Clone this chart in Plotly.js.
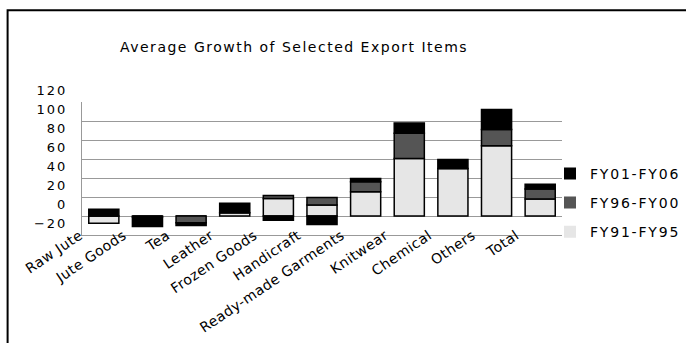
<!DOCTYPE html>
<html>
<head>
<meta charset="utf-8">
<script src="https://cdn.plot.ly/plotly-3.0.1.min.js"></script>
<style>
  html, body { margin: 0; padding: 0; background: #fff; }
  #chart { width: 686px; height: 343px; }
  .gtitle { letter-spacing: 1.5px; }
  .ytick text { letter-spacing: 2px; }
  .xtick text { letter-spacing: 0.5px; }
  .legendtext { letter-spacing: 1.8px; }
  .legend .legendpoints path { stroke: none !important; }
</style>
</head>
<body>
<div id="chart"></div>
<script>
const categories = ["Raw Jute", "Jute Goods", "Tea", "Leather", "Frozen Goods", "Handicraft",
  "Ready-made Garments", "Knitwear", "Chemical", "Others", "Total"];
const fy91_95 = [-7.5, 0, 0, 3.5, 18.5, 11.5, 25.5, 60.5, 50, 74, 18];
const fy96_00 = [0, -1, -7, 0, 3, 8, 10.5, 26.5, 0, 17, 10.5];
const fy01_06 = [7, -10, -3, 10, -4.5, -9, 3.5, 11, 9.5, 21, 5];
const seriesNames = ["FY91-FY95", "FY96-FY00", "FY01-FY06"];
const yTicks = [-20, 0, 20, 40, 60, 80, 100, 120];

const colors = ["#e6e6e6", "#555555", "#000000"];
const seriesData = [fy91_95, fy96_00, fy01_06];

const traces = seriesData.map((vals, i) => ({
  type: "bar",
  x: categories,
  y: vals,
  name: seriesNames[i],
  legendgroup: seriesNames[i],
  legendrank: 3 - i,
  marker: { color: colors[i], line: { color: "#000", width: 1.5 } }
}));

const font = "DejaVu Sans, Arial, sans-serif";

const layout = {
  width: 686,
  height: 343,
  paper_bgcolor: "#fff",
  plot_bgcolor: "#fff",
  margin: { l: 82, r: 124, t: 102, b: 108, autoexpand: false },
  barmode: "relative",
  bargap: 0.31,
  showlegend: true,
  title: {
    text: "Average Growth of Selected Export Items",
    font: { family: font, size: 14, color: "#000" },
    x: 0.4286, xref: "container", xanchor: "center",
    y: 0.863, yref: "container", yanchor: "middle"
  },
  xaxis: {
    type: "category",
    tickangle: -34,
    tickfont: { family: font, size: 14, color: "#000" },
    ticklabelshift: -24,
    ticklabelstandoff: -14,
    showline: true, linecolor: "#999", linewidth: 1,
    showgrid: false,
    ticks: ""
  },
  yaxis: {
    range: [-20, 120],
    tickvals: yTicks,
    tickfont: { family: font, size: 13, color: "#000" },
    ticklabelshift: -12,
    ticklabelstandoff: 11,
    showgrid: true, gridcolor: "#999", gridwidth: 1,
    zeroline: true, zerolinecolor: "#999", zerolinewidth: 1,
    showline: true, linecolor: "#999", linewidth: 1,
    ticks: ""
  },
  legend: {
    xref: "container", yref: "container",
    x: 1, xanchor: "right",
    y: 0.54, yanchor: "top",
    traceorder: "grouped",
    tracegroupgap: 8,
    font: { family: font, size: 14, color: "#000" },
    bgcolor: "rgba(0,0,0,0)"
  },
  shapes: [{
    type: "rect", xref: "paper", yref: "paper",
    x0: -0.155, x1: 1.35, y0: -0.95, y1: 1.69,
    line: { color: "#000", width: 2 },
    fillcolor: "rgba(0,0,0,0)",
    layer: "below"
  }]
};

Plotly.newPlot("chart", traces, layout, { staticPlot: true, displayModeBar: false });
</script>
</body>
</html>
